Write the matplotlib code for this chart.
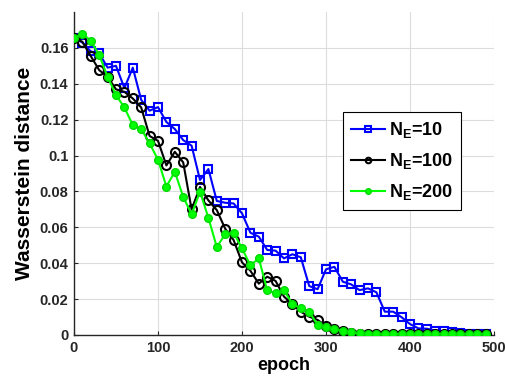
import matplotlib
matplotlib.use("Agg")
import matplotlib.pyplot as plt
import numpy as np

plt.rcParams['font.family'] = ['Liberation Sans', 'DejaVu Sans']
plt.rcParams['mathtext.fontset'] = 'custom'
plt.rcParams['mathtext.bf'] = 'Liberation Sans:bold'
plt.rcParams['mathtext.rm'] = 'Liberation Sans:bold'

epochs = list(range(0, 500, 10))

wd_ne10 = [0.1655, 0.163, 0.158, 0.157, 0.149, 0.150, 0.1376, 0.149, 0.131, 0.125,
           0.127, 0.1187, 0.1148, 0.1086, 0.1055, 0.0864, 0.0925, 0.0747, 0.0737, 0.0733,
           0.0678, 0.057, 0.0548, 0.0474, 0.047, 0.0427, 0.045, 0.0433, 0.0273, 0.0255,
           0.0366, 0.038, 0.0297, 0.0282, 0.025, 0.026, 0.0238, 0.013, 0.013, 0.0099,
           0.0061, 0.0037, 0.0035, 0.0025, 0.002, 0.0015, 0.0012, 0.0008, 0.0006, 0.0005]

wd_ne100 = [0.1656, 0.1634, 0.1554, 0.1476, 0.1439, 0.1369, 0.1355, 0.1318, 0.1268, 0.1109,
            0.1082, 0.0945, 0.1021, 0.0962, 0.0700, 0.0825, 0.0750, 0.0696, 0.0592, 0.0529,
            0.0405, 0.0358, 0.0286, 0.0325, 0.0301, 0.0214, 0.0171, 0.0130, 0.0102, 0.0084,
            0.0050, 0.0032, 0.0020, 0.0012, 0.0008, 0.0006, 0.0005, 0.0004, 0.0004, 0.0003,
            0.0003, 0.0003, 0.0003, 0.0003, 0.0003, 0.0003, 0.0003, 0.0003, 0.0003, 0.0003]

wd_ne200 = [0.1656, 0.168, 0.164, 0.156, 0.1439, 0.1337, 0.1268, 0.117, 0.1148, 0.1068,
            0.0977, 0.0827, 0.091, 0.077, 0.0672, 0.0799, 0.0653, 0.049, 0.0562, 0.057,
            0.0483, 0.0388, 0.0427, 0.025, 0.0232, 0.025, 0.0173, 0.0149, 0.013, 0.0056,
            0.0043, 0.0032, 0.0024, 0.0015, 0.0010, 0.0008, 0.0007, 0.0006, 0.0006, 0.0006,
            0.0006, 0.0006, 0.0006, 0.0006, 0.0006, 0.0006, 0.0006, 0.0006, 0.0006, 0.0006]

labels = [r'$\mathbf{N_E}$=10', r'$\mathbf{N_E}$=100', r'$\mathbf{N_E}$=200']
xticks = [0, 100, 200, 300, 400, 500]
yticks = [0, 0.02, 0.04, 0.06, 0.08, 0.1, 0.12, 0.14, 0.16]
ytick_labels = ['0', '0.02', '0.04', '0.06', '0.08', '0.1', '0.12', '0.14', '0.16']

fig = plt.figure(figsize=(5.05, 3.90), dpi=100)
ax = fig.add_axes([74/505, 55/390, 420/505, 323/390])

ax.plot(epochs, wd_ne10, '-s', color=(0, 0, 1), lw=1.5, ms=6, mfc='none', mew=1.5,
        label=labels[0], zorder=3)
ax.plot(epochs, wd_ne100, '-o', color='black', lw=1.5, ms=6.5, mfc='none', mew=1.5,
        label=labels[1], zorder=4)
ax.plot(epochs, wd_ne200, '-o', color=(0, 1, 0), lw=1.5, ms=5.5, mfc=(0, 1, 0),
        mec=(0, 0.85, 0), mew=1.0, label=labels[2], zorder=5)

ax.set_xlim(0, 500)
ax.set_ylim(0, 0.18)
ax.set_xticks(xticks)
ax.set_xticklabels([str(t) for t in xticks], fontweight='bold', fontsize=10.5)
ax.set_yticks(yticks)
ax.set_yticklabels(ytick_labels, fontweight='bold', fontsize=10.5)
ax.tick_params(direction='in', length=3, width=0.8, colors='#262626', pad=4)

ax.grid(True, color='#dcdcdc', lw=0.8)
ax.set_axisbelow(True)
for s in ['top', 'right']:
    ax.spines[s].set_visible(False)
for s in ['left', 'bottom']:
    ax.spines[s].set_color('#262626')
    ax.spines[s].set_linewidth(1.0)

ax.set_xlabel('epoch', fontweight='bold', fontsize=13, labelpad=2)
ax.set_ylabel('Wasserstein distance', fontweight='bold', fontsize=15, labelpad=4)

leg = ax.legend(loc='upper right', bbox_to_anchor=(0.921, 0.690), borderaxespad=0,
                prop={'weight': 'bold', 'size': 13}, fancybox=False,
                edgecolor='black', framealpha=1, handlelength=1.9, numpoints=1,
                labelspacing=0.6, handletextpad=0.2, borderpad=0.45)
leg.get_frame().set_linewidth(0.8)
for h in leg.legend_handles:
    h.set_markersize(4)

fig.savefig('out.png', dpi=100)
